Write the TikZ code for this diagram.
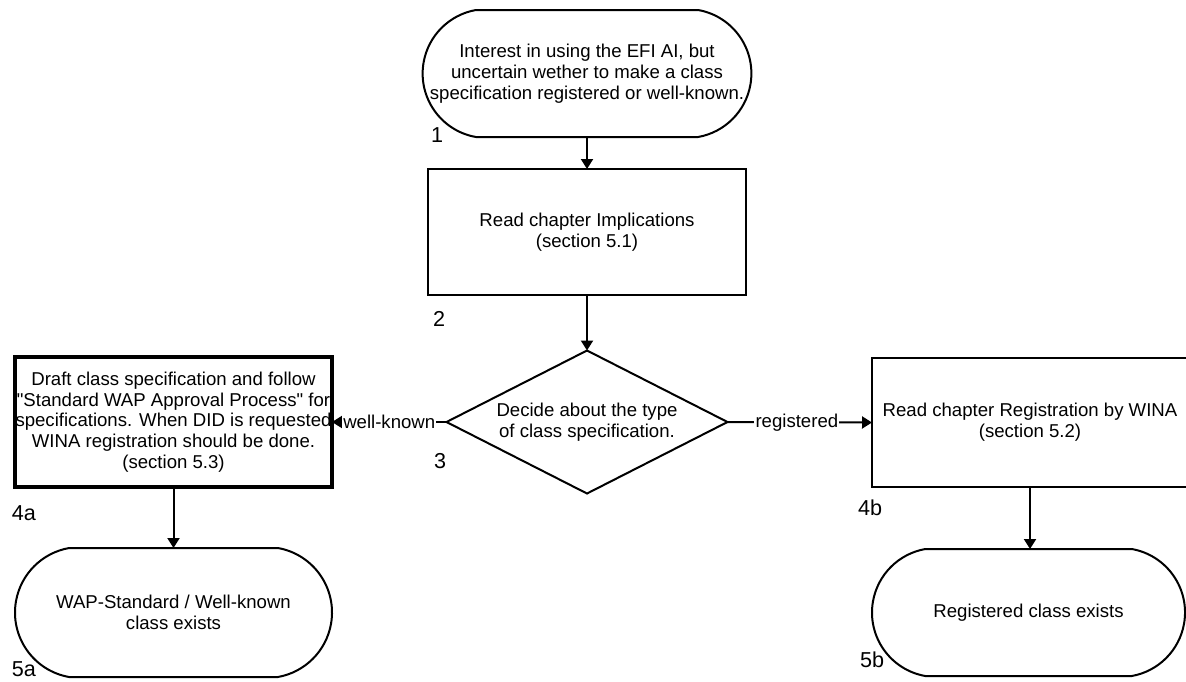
\documentclass[tikz,border=0pt]{standalone}
\usepackage{fontspec}
\setmainfont{Liberation Sans}
\usetikzlibrary{shapes.geometric,shapes.misc,arrows.meta}
\begin{document}
\begin{tikzpicture}[x=0.5pt,y=-0.5pt,
  every node/.style={inner sep=0pt, outer sep=0pt},
  txt/.style={font=\fontsize{9.3pt}{10.5pt}\selectfont, align=center},
  term/.style={txt, draw, line width=1pt, shape=rounded rectangle, rounded rectangle arc length=160},
  procbox/.style={txt, draw, line width=1pt, rectangle},
  decision/.style={txt, draw, line width=1pt, diamond, aspect=1.965},
  num/.style={font=\fontsize{10.8pt}{12pt}\selectfont},
  arr/.style={line width=1pt, -{Triangle[length=5pt,width=6pt]}},
  elabel/.style={font=\fontsize{9.3pt}{10.5pt}\selectfont, fill=white, inner sep=0.6pt},
]
\useasboundingbox (0,0) rectangle (1186,681);

\node[term, minimum width=158.5pt, minimum height=63.5pt] (n1) at (587,73.5)
  {Interest in using the EFI AI, but\\uncertain wether to make a class\\specification registered or well-known.};
\node[procbox, minimum width=159pt, minimum height=63pt] (n2) at (587,232)
  {Read chapter Implications\\(section 5.1)};
\node[decision, minimum width=140.5pt, minimum height=71.5pt] (d3) at (587,422)
  {Decide about the type\\of class specification.};
\node[procbox, line width=1.8pt, minimum width=158.5pt, minimum height=65pt,
      font=\fontsize{9.3pt}{10.3pt}\selectfont] (b4a) at (173.5,422)
  {Draft class specification and follow\\\textquotedbl Standard WAP Approval Process\textquotedbl{} for\\specifications. When DID is requested\\WINA registration should be done.\\(section 5.3)};
\node[procbox, minimum width=158pt, minimum height=64.5pt] (b4b) at (1030,422.5)
  {Read chapter Registration by WINA\\(section 5.2)};
\node[term, minimum width=158.5pt, minimum height=64.5pt] (t5a) at (173.5,612.5)
  {WAP-Standard / Well-known\\class exists};
\node[term, minimum width=156.5pt, minimum height=63.5pt] (t5b) at (1028.5,612.5)
  {Registered class exists};

\node[num] (l1) at (437,135) {1};
\node[num] (l2) at (439,319) {2};
\node[num] (l3) at (440,461) {3};
\node[num] (l4a) at (24,513) {4a};
\node[num] (l4b) at (870,508) {4b};
\node[num] (l5a) at (24,669) {5a};
\node[num] (l5b) at (872,660) {5b};

\draw[arr] (n1.south) -- (n2.north);
\draw[arr] (n2.south) -- (d3.north);
\draw[arr] (d3.west) -- node[elabel] {well-known} (b4a.east);
\draw[arr] (d3.east) -- node[elabel, pos=0.48] {registered} (b4b.west);
\draw[arr] (b4a.south) -- (t5a.north);
\draw[arr] (b4b.south) -- (b4b.south |- t5b.north);
\end{tikzpicture}
\end{document}
